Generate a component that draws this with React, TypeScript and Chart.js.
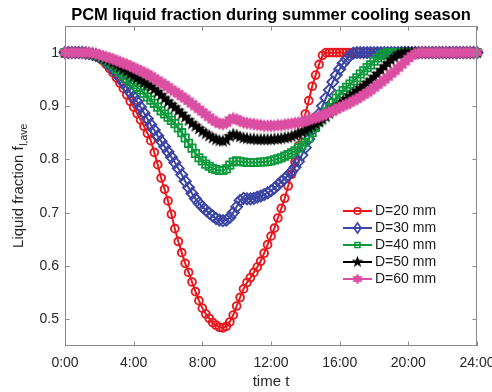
import React, { useEffect, useRef } from 'react';
import { Chart, registerables } from 'chart.js';

Chart.register(...registerables);

// ---------------- data ----------------
const TIME_STEP_H = 0.2; // samples every 12 minutes, 0:00 .. 24:00
const X_TICKS = [0, 4, 8, 12, 16, 20, 24];
const X_TICK_LABELS = ['0:00', '4:00', '8:00', '12:00', '16:00', '20:00', '24:00'];
const Y_TICKS = [0.5, 0.6, 0.7, 0.8, 0.9, 1];
const SERIES_LABELS = ['D=20 mm', 'D=30 mm', 'D=40 mm', 'D=50 mm', 'D=60 mm'];
const TITLE = 'PCM liquid fraction during summer cooling season';
const X_TITLE = 'time t';
const Y_TITLE_MAIN = 'Liquid fraction f';
const Y_TITLE_SUB = 'l,ave';

const D20 = [
  1, 1, 1, 1, 1,
  1, 0.999, 0.998, 0.996, 0.993,
  0.99, 0.985, 0.978, 0.97, 0.962,
  0.953, 0.943, 0.933, 0.921, 0.909,
  0.898, 0.886, 0.874, 0.862, 0.849,
  0.835, 0.813, 0.79, 0.765, 0.744,
  0.722, 0.697, 0.67, 0.646, 0.625,
  0.605, 0.588, 0.57, 0.552, 0.535,
  0.521, 0.51, 0.502, 0.494, 0.489,
  0.485, 0.484, 0.487, 0.495, 0.508,
  0.525, 0.541, 0.557, 0.569, 0.578,
  0.588, 0.598, 0.609, 0.624, 0.64,
  0.656, 0.671, 0.69, 0.708, 0.727,
  0.75, 0.772, 0.795, 0.825, 0.858,
  0.885, 0.91, 0.937, 0.958, 0.978,
  0.995, 1, 1, 1, 1,
  1, 1, 1, 1, 1,
  1, 1, 1, 1, 1,
  1, 1, 1, 1, 1,
  1, 1, 1, 1, 1,
  1, 1, 1, 1, 1,
  1, 1, 1, 1, 1,
  1, 1, 1, 1, 1,
  1, 1, 1, 1, 1,
  1,
];

const D30 = [
  1, 1, 1, 1, 1,
  1, 0.999, 0.998, 0.997, 0.995,
  0.992, 0.988, 0.982, 0.976, 0.969,
  0.961, 0.953, 0.944, 0.935, 0.926,
  0.917, 0.908, 0.898, 0.887, 0.876,
  0.865, 0.855, 0.844, 0.834, 0.824,
  0.814, 0.804, 0.794, 0.783, 0.771,
  0.759, 0.747, 0.736, 0.726, 0.718,
  0.711, 0.705, 0.699, 0.694, 0.689,
  0.686, 0.685, 0.686, 0.691, 0.7,
  0.711, 0.723, 0.727, 0.726, 0.726,
  0.727, 0.729, 0.731, 0.734, 0.737,
  0.741, 0.746, 0.752, 0.758, 0.764,
  0.77, 0.777, 0.785, 0.796, 0.808,
  0.822, 0.838, 0.855, 0.87, 0.885,
  0.9, 0.915, 0.93, 0.945, 0.958,
  0.969, 0.98, 0.988, 0.995, 0.999,
  1, 1, 1, 1, 1,
  1, 1, 1, 1, 1,
  1, 1, 1, 1, 1,
  1, 1, 1, 1, 1,
  1, 1, 1, 1, 1,
  1, 1, 1, 1, 1,
  1, 1, 1, 1, 1,
  1,
];

const D40 = [
  1, 1, 1, 1, 1,
  1, 0.999, 0.998, 0.997, 0.995,
  0.993, 0.99, 0.985, 0.98, 0.975,
  0.969, 0.963, 0.957, 0.951, 0.945,
  0.94, 0.935, 0.93, 0.924, 0.917,
  0.911, 0.905, 0.898, 0.891, 0.885,
  0.879, 0.873, 0.867, 0.859, 0.85,
  0.84, 0.83, 0.821, 0.811, 0.803,
  0.797, 0.791, 0.787, 0.783, 0.781,
  0.779, 0.779, 0.782, 0.789, 0.795,
  0.797, 0.796, 0.795, 0.794, 0.794,
  0.794, 0.794, 0.795, 0.795, 0.796,
  0.797, 0.799, 0.801, 0.803, 0.806,
  0.809, 0.812, 0.816, 0.821, 0.826,
  0.832, 0.84, 0.85, 0.86, 0.87,
  0.88, 0.889, 0.897, 0.906, 0.915,
  0.922, 0.929, 0.935, 0.941, 0.947,
  0.953, 0.96, 0.966, 0.972, 0.977,
  0.984, 0.99, 0.995, 0.998, 1,
  1, 1, 1, 1, 1,
  1, 1, 1, 1, 1,
  1, 1, 1, 1, 1,
  1, 1, 1, 1, 1,
  1, 1, 1, 1, 1,
  1,
];

const D50 = [
  1, 1, 1, 1, 1,
  1, 1, 0.999, 0.998, 0.996,
  0.994, 0.991, 0.988, 0.985, 0.981,
  0.977, 0.973, 0.969, 0.965, 0.96,
  0.956, 0.952, 0.948, 0.944, 0.94,
  0.936, 0.931, 0.926, 0.92, 0.914,
  0.908, 0.902, 0.897, 0.891, 0.885,
  0.879, 0.873, 0.867, 0.862, 0.857,
  0.852, 0.848, 0.844, 0.84, 0.837,
  0.835, 0.834, 0.836, 0.843, 0.847,
  0.845, 0.842, 0.84, 0.839, 0.838,
  0.838, 0.837, 0.837, 0.837, 0.837,
  0.837, 0.838, 0.838, 0.839, 0.84,
  0.841, 0.843, 0.845, 0.848, 0.851,
  0.854, 0.858, 0.862, 0.866, 0.87,
  0.875, 0.88, 0.886, 0.892, 0.897,
  0.902, 0.908, 0.913, 0.918, 0.923,
  0.928, 0.933, 0.938, 0.943, 0.948,
  0.954, 0.96, 0.967, 0.974, 0.98,
  0.986, 0.991, 0.996, 0.999, 1,
  1, 1, 1, 1, 1,
  1, 1, 1, 1, 1,
  1, 1, 1, 1, 1,
  1, 1, 1, 1, 1,
  1,
];

const D60 = [
  1, 1, 1, 1, 1,
  1, 1, 1, 0.999, 0.998,
  0.996, 0.994, 0.992, 0.99, 0.988,
  0.985, 0.983, 0.98, 0.978, 0.975,
  0.972, 0.969, 0.966, 0.963, 0.96,
  0.956, 0.952, 0.948, 0.944, 0.94,
  0.936, 0.931, 0.927, 0.923, 0.918,
  0.914, 0.909, 0.904, 0.899, 0.894,
  0.889, 0.884, 0.879, 0.874, 0.87,
  0.867, 0.866, 0.868, 0.874, 0.877,
  0.875, 0.872, 0.869, 0.868, 0.867,
  0.866, 0.865, 0.864, 0.863, 0.863,
  0.863, 0.863, 0.864, 0.864, 0.865,
  0.866, 0.867, 0.868, 0.869, 0.87,
  0.872, 0.874, 0.876, 0.878, 0.88,
  0.882, 0.885, 0.888, 0.891, 0.894,
  0.897, 0.9, 0.903, 0.906, 0.91,
  0.913, 0.917, 0.921, 0.925, 0.929,
  0.934, 0.939, 0.944, 0.949, 0.954,
  0.96, 0.965, 0.971, 0.977, 0.983,
  0.989, 0.994, 0.998, 1, 1,
  1, 1, 1, 1, 1,
  1, 1, 1, 1, 1,
  1, 1, 1, 1, 1,
  1,
];

const SERIES = [D20, D30, D40, D50, D60];

// ---------------- styles ----------------
const FONT = "'Liberation Sans', Arial, Helvetica, sans-serif";
const TEXT_COLOR = '#262626';
const AXIS_COLOR = '#8a8a8a';
const COLORS = ['#e8191e', '#3b45a5', '#0e9a3c', '#000000', '#db4fa2'];
const CLEAR = 'rgba(0,0,0,0)';

function makeStar(spikes: number, outer: number, inner: number, color: string) {
  const size = Math.ceil(outer * 2 + 2);
  const c = document.createElement('canvas');
  c.width = size;
  c.height = size;
  const g = c.getContext('2d')!;
  const cx = size / 2;
  const cy = size / 2;
  g.beginPath();
  for (let i = 0; i < spikes * 2; i++) {
    const r = i % 2 === 0 ? outer : inner;
    const a = -Math.PI / 2 + (i * Math.PI) / spikes;
    const px = cx + r * Math.cos(a);
    const py = cy + r * Math.sin(a);
    if (i === 0) g.moveTo(px, py);
    else g.lineTo(px, py);
  }
  g.closePath();
  g.fillStyle = color;
  g.fill();
  return c;
}

function drawLegendMarker(ctx: CanvasRenderingContext2D, i: number, x: number, y: number, stars: HTMLCanvasElement[]) {
  const color = COLORS[i];
  ctx.save();
  ctx.strokeStyle = color;
  ctx.lineWidth = 1.6;
  if (i === 0) {
    ctx.beginPath();
    ctx.arc(x, y, 3.3, 0, Math.PI * 2);
    ctx.stroke();
  } else if (i === 1) {
    ctx.beginPath();
    ctx.moveTo(x, y - 5);
    ctx.lineTo(x + 3.5, y);
    ctx.lineTo(x, y + 5);
    ctx.lineTo(x - 3.5, y);
    ctx.closePath();
    ctx.stroke();
  } else if (i === 2) {
    ctx.beginPath();
    ctx.rect(x - 2.5, y - 2.5, 5, 5);
    ctx.stroke();
  } else {
    const s = stars[i - 3];
    ctx.drawImage(s, x - s.width / 2, y - s.height / 2);
  }
  ctx.restore();
}

export default function App() {
  const ref = useRef<HTMLCanvasElement | null>(null);

  useEffect(() => {
    document.body.style.margin = '0';
    const canvas = ref.current;
    if (!canvas) return;

    const pentagram = makeStar(5, 7, 2.8, COLORS[3]);
    const hexagram = makeStar(6, 6.8, 3.9, COLORS[4]);
    const legendPenta = makeStar(5, 6.2, 2.5, COLORS[3]);
    const legendHexa = makeStar(6, 5.8, 3.3, COLORS[4]);

    const pointStyles: any[] = ['circle', 'rectRot', 'rect', pentagram, hexagram];
    const radii = [3.9, 5.6, 5.2, 7, 7];
    const borderW = [1.9, 1.8, 1.8, 1, 1];
    const bg = [CLEAR, CLEAR, CLEAR, COLORS[3], COLORS[4]];

    const datasets = SERIES.map((vals, i) => ({
      label: SERIES_LABELS[i],
      data: vals.map((v, k) => ({ x: k * TIME_STEP_H, y: v })),
      borderColor: COLORS[i],
      backgroundColor: bg[i],
      borderWidth: 2,
      pointStyle: pointStyles[i],
      pointRadius: radii[i],
      pointBorderWidth: borderW[i],
      pointBorderColor: COLORS[i],
      pointBackgroundColor: bg[i],
      tension: 0,
      fill: false,
      clip: false as any,
      order: 5 - i,
    }));

    const framePlugin = {
      id: 'frame',
      afterDraw(chart: any) {
        const { ctx, chartArea: a, scales } = chart;
        ctx.save();
        ctx.strokeStyle = AXIS_COLOR;
        ctx.lineWidth = 1;
        ctx.strokeRect(Math.round(a.left) + 0.5, Math.round(a.top) + 0.5, Math.round(a.right - a.left) - 1, Math.round(a.bottom - a.top) - 1);
        const tl = 4.5;
        ctx.beginPath();
        X_TICKS.forEach((t) => {
          const px = Math.round(scales.x.getPixelForValue(t)) + 0.5;
          ctx.moveTo(px, a.bottom);
          ctx.lineTo(px, a.bottom - tl);
          ctx.moveTo(px, a.top);
          ctx.lineTo(px, a.top + tl);
        });
        Y_TICKS.forEach((v) => {
          const py = Math.round(scales.y.getPixelForValue(v)) + 0.5;
          ctx.moveTo(a.left, py);
          ctx.lineTo(a.left + tl, py);
          ctx.moveTo(a.right, py);
          ctx.lineTo(a.right - tl, py);
        });
        ctx.stroke();

        // title
        ctx.fillStyle = '#000000';
        ctx.font = `bold 16.5px ${FONT}`;
        ctx.textAlign = 'center';
        ctx.textBaseline = 'middle';
        ctx.fillText(TITLE, (a.left + a.right) / 2, 15);

        // y axis title with subscript
        ctx.save();
        ctx.translate(18, (a.top + a.bottom) / 2);
        ctx.rotate(-Math.PI / 2);
        ctx.fillStyle = TEXT_COLOR;
        ctx.textAlign = 'left';
        ctx.textBaseline = 'alphabetic';
        ctx.font = `15px ${FONT}`;
        const wMain = ctx.measureText(Y_TITLE_MAIN).width;
        ctx.font = `10.5px ${FONT}`;
        const wSub = ctx.measureText(Y_TITLE_SUB).width;
        const start = -(wMain + wSub) / 2;
        ctx.font = `15px ${FONT}`;
        ctx.fillText(Y_TITLE_MAIN, start, 5);
        ctx.font = `10.5px ${FONT}`;
        ctx.fillText(Y_TITLE_SUB, start + wMain + 0.5, 9);
        ctx.restore();

        // legend inside the axes
        const lx0 = a.right - 134;
        const lx1 = a.right - 105;
        const ltx = a.right - 102;
        const ly0 = a.bottom - 135;
        const ldy = 17;
        ctx.font = `14px ${FONT}`;
        ctx.textAlign = 'left';
        ctx.textBaseline = 'middle';
        SERIES_LABELS.forEach((lab, i) => {
          const y = ly0 + i * ldy;
          ctx.strokeStyle = COLORS[i];
          ctx.lineWidth = 2;
          ctx.beginPath();
          ctx.moveTo(lx0, y);
          ctx.lineTo(lx1, y);
          ctx.stroke();
          drawLegendMarker(ctx, i, (lx0 + lx1) / 2, y, [legendPenta, legendHexa]);
          ctx.fillStyle = '#1a1a1a';
          ctx.fillText(lab, ltx, y + 0.5);
        });
        ctx.restore();
      },
    };

    const chart = new Chart(canvas, {
      type: 'line',
      data: { datasets: datasets as any },
      options: {
        animation: false,
        responsive: false,
        devicePixelRatio: 1,
        layout: { padding: { top: 26, right: 15, left: 0, bottom: 0 } },
        plugins: {
          legend: { display: false },
          tooltip: { enabled: false },
          title: { display: false },
        },
        scales: {
          x: {
            type: 'linear',
            min: 0,
            max: 24,
            afterBuildTicks: (s: any) => {
              s.ticks = X_TICKS.map((v) => ({ value: v }));
            },
            afterFit: (s: any) => {
              s.height = 46;
              s.paddingLeft = 0;
              s.paddingRight = 0;
            },
            ticks: {
              autoSkip: false,
              maxRotation: 0,
              padding: 9,
              color: TEXT_COLOR,
              font: { family: FONT, size: 14 },
              callback: (v: any) => X_TICK_LABELS[X_TICKS.indexOf(Number(v))],
            },
            grid: { display: false, drawTicks: false },
            border: { display: false },
            title: {
              display: true,
              text: X_TITLE,
              color: TEXT_COLOR,
              font: { family: FONT, size: 15 },
              padding: { top: 0, bottom: 1 },
            },
          },
          y: {
            type: 'linear',
            min: 0.45,
            max: 1.05,
            afterBuildTicks: (s: any) => {
              s.ticks = Y_TICKS.map((v) => ({ value: v }));
            },
            afterFit: (s: any) => {
              s.width = 65;
              s.paddingTop = 0;
              s.paddingBottom = 0;
            },
            ticks: {
              padding: 6,
              color: TEXT_COLOR,
              font: { family: FONT, size: 14 },
              callback: (v: any) => String(v),
            },
            grid: { display: false, drawTicks: false },
            border: { display: false },
          },
        },
      },
      plugins: [framePlugin],
    });

    return () => chart.destroy();
  }, []);

  return <canvas ref={ref} width={492} height={392} style={{ display: 'block' }} />;
}
